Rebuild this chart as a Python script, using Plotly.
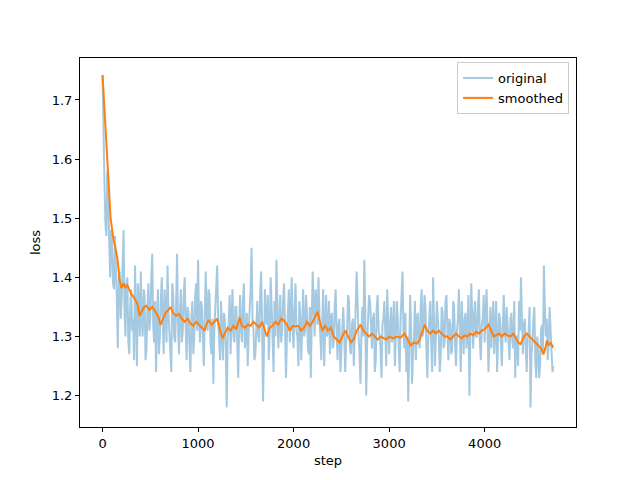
import plotly.graph_objects as go

orig_steps = list(range(0, 4721, 10))
orig_loss = [
    1.742, 1.62, 1.56, 1.49, 1.47, 1.58, 1.53, 1.46, 1.40, 1.48, 1.45, 1.39, 1.38, 1.47, 1.43, 1.36, 1.28, 1.40, 1.41, 1.33,
    1.36, 1.42, 1.48, 1.34, 1.30, 1.39, 1.40, 1.29, 1.27, 1.35, 1.38, 1.31, 1.33, 1.26, 1.42, 1.34, 1.25, 1.39, 1.36, 1.30,
    1.41, 1.33, 1.30, 1.38, 1.37, 1.26, 1.28, 1.35, 1.39, 1.31, 1.33, 1.40, 1.44, 1.32, 1.29, 1.36, 1.24, 1.33, 1.38, 1.27,
    1.30, 1.36, 1.40, 1.33, 1.27, 1.38, 1.35, 1.29, 1.42, 1.34, 1.31, 1.26, 1.24, 1.39, 1.37, 1.30, 1.29, 1.35, 1.44, 1.32,
    1.27, 1.34, 1.38, 1.29, 1.31, 1.37, 1.40, 1.32, 1.26, 1.35, 1.34, 1.28, 1.24, 1.33, 1.36, 1.27, 1.30, 1.37, 1.39, 1.31,
    1.43, 1.33, 1.29, 1.36, 1.35, 1.30, 1.25, 1.33, 1.41, 1.34, 1.31, 1.38, 1.37, 1.29, 1.27, 1.33, 1.22, 1.31, 1.34, 1.39,
    1.42, 1.33, 1.30, 1.26, 1.36, 1.31, 1.26, 1.34, 1.33, 1.28, 1.18, 1.30, 1.32, 1.37, 1.27, 1.33, 1.38, 1.30, 1.29, 1.35,
    1.35, 1.29, 1.23, 1.32, 1.37, 1.31, 1.29, 1.36, 1.39, 1.28, 1.30, 1.34, 1.25, 1.31, 1.34, 1.38, 1.45, 1.33, 1.31, 1.26,
    1.27, 1.33, 1.36, 1.30, 1.29, 1.37, 1.41, 1.32, 1.19, 1.28, 1.38, 1.33, 1.32, 1.37, 1.26, 1.31, 1.40, 1.35, 1.30, 1.24,
    1.36, 1.30, 1.43, 1.34, 1.28, 1.32, 1.37, 1.29, 1.31, 1.36, 1.39, 1.32, 1.23, 1.30, 1.34, 1.38, 1.29, 1.33, 1.40, 1.31,
    1.28, 1.35, 1.39, 1.31, 1.30, 1.25, 1.36, 1.33, 1.26, 1.32, 1.38, 1.30, 1.31, 1.37, 1.34, 1.28, 1.27, 1.35, 1.23, 1.33,
    1.41, 1.35, 1.30, 1.38, 1.36, 1.32, 1.40, 1.34, 1.29, 1.26, 1.33, 1.38, 1.25, 1.32, 1.37, 1.30, 1.31, 1.36, 1.27, 1.33,
    1.34, 1.28, 1.29, 1.35, 1.38, 1.31, 1.26, 1.32, 1.33, 1.24, 1.28, 1.34, 1.35, 1.30, 1.24, 1.29, 1.31, 1.37, 1.36, 1.28,
    1.27, 1.32, 1.33, 1.25, 1.29, 1.35, 1.41, 1.32, 1.30, 1.27, 1.22, 1.31, 1.35, 1.30, 1.43, 1.34, 1.20, 1.29, 1.32, 1.37,
    1.36, 1.30, 1.28, 1.33, 1.34, 1.24, 1.26, 1.35, 1.37, 1.31, 1.30, 1.28, 1.23, 1.32, 1.33, 1.36, 1.29, 1.25, 1.38, 1.31,
    1.27, 1.32, 1.35, 1.29, 1.31, 1.36, 1.25, 1.30, 1.36, 1.33, 1.29, 1.24, 1.33, 1.37, 1.41, 1.31, 1.28, 1.34, 1.24, 1.30,
    1.19, 1.28, 1.37, 1.31, 1.22, 1.27, 1.30, 1.36, 1.26, 1.33, 1.34, 1.29, 1.28, 1.35, 1.38, 1.30, 1.31, 1.37, 1.35, 1.28,
    1.23, 1.30, 1.33, 1.36, 1.29, 1.24, 1.40, 1.32, 1.25, 1.31, 1.36, 1.33, 1.30, 1.24, 1.27, 1.35, 1.34, 1.28, 1.29, 1.36,
    1.37, 1.31, 1.26, 1.33, 1.32, 1.27, 1.28, 1.36, 1.35, 1.29, 1.25, 1.31, 1.33, 1.38, 1.29, 1.24, 1.36, 1.31, 1.27, 1.33,
    1.34, 1.28, 1.31, 1.37, 1.20, 1.30, 1.39, 1.33, 1.28, 1.34, 1.36, 1.30, 1.30, 1.35, 1.38, 1.29, 1.26, 1.32, 1.33, 1.37,
    1.29, 1.34, 1.38, 1.31, 1.24, 1.30, 1.35, 1.28, 1.31, 1.36, 1.27, 1.32, 1.36, 1.24, 1.30, 1.34, 1.33, 1.28, 1.25, 1.32,
    1.37, 1.31, 1.29, 1.35, 1.32, 1.27, 1.26, 1.33, 1.34, 1.29, 1.28, 1.36, 1.23, 1.30, 1.30, 1.25, 1.36, 1.31, 1.40, 1.33,
    1.27, 1.32, 1.33, 1.28, 1.24, 1.30, 1.31, 1.35, 1.18, 1.27, 1.29, 1.33, 1.35, 1.26, 1.23, 1.30, 1.28, 1.23, 1.25, 1.31,
    1.32, 1.27, 1.42, 1.35, 1.30, 1.33, 1.26, 1.29, 1.35, 1.31, 1.28, 1.24, 1.25,
]

smooth_steps = [
    0, 20, 40, 60, 84, 100, 115, 135, 157, 178, 199, 220, 240, 260, 280, 300, 325, 345, 366, 387,
    410, 435, 460, 490, 520, 550, 580, 607, 630, 660, 690, 712, 740, 770, 800, 830, 860, 890, 920, 950,
    980, 1010, 1040, 1068, 1090, 1110, 1140, 1170, 1200, 1230, 1257, 1280, 1310, 1340, 1370, 1400, 1435, 1460, 1490, 1520,
    1550, 1580, 1610, 1640, 1670, 1700, 1720, 1750, 1780, 1810, 1840, 1870, 1900, 1930, 1960, 1990, 2020, 2050, 2080, 2110,
    2140, 2170, 2200, 2230, 2251, 2275, 2300, 2330, 2360, 2390, 2420, 2450, 2480, 2510, 2545, 2570, 2600, 2630, 2660, 2700,
    2730, 2760, 2790, 2820, 2850, 2880, 2910, 2940, 2970, 3000, 3040, 3080, 3120, 3160, 3190, 3225, 3260, 3290, 3320, 3350,
    3370, 3400, 3430, 3460, 3490, 3520, 3550, 3580, 3610, 3640, 3670, 3700, 3730, 3760, 3790, 3820, 3850, 3880, 3910, 3940,
    3970, 4000, 4040, 4070, 4095, 4120, 4150, 4180, 4210, 4240, 4270, 4300, 4330, 4350, 4375, 4410, 4440, 4470, 4500, 4530,
    4565, 4590, 4617, 4635, 4650, 4670, 4690, 4710, 4720,
]
smooth_loss = [
    1.742, 1.69, 1.63, 1.57, 1.50, 1.475, 1.463, 1.45, 1.43, 1.396, 1.382, 1.39, 1.383, 1.387, 1.378, 1.372, 1.367, 1.362, 1.355, 1.335,
    1.342, 1.35, 1.352, 1.345, 1.35, 1.343, 1.335, 1.32, 1.33, 1.34, 1.345, 1.35, 1.34, 1.335, 1.338, 1.33, 1.325, 1.33, 1.322, 1.318,
    1.325, 1.32, 1.315, 1.31, 1.322, 1.328, 1.32, 1.325, 1.33, 1.31, 1.297, 1.305, 1.315, 1.31, 1.318, 1.312, 1.332, 1.318, 1.315, 1.32,
    1.318, 1.325, 1.32, 1.315, 1.325, 1.31, 1.30, 1.315, 1.318, 1.325, 1.32, 1.33, 1.327, 1.32, 1.31, 1.318, 1.317, 1.318, 1.31, 1.315,
    1.325, 1.318, 1.325, 1.335, 1.342, 1.325, 1.31, 1.318, 1.31, 1.315, 1.30, 1.295, 1.29, 1.30, 1.31, 1.30, 1.29, 1.295, 1.31, 1.32,
    1.31, 1.305, 1.30, 1.305, 1.30, 1.295, 1.30, 1.298, 1.295, 1.30, 1.297, 1.30, 1.298, 1.305, 1.295, 1.285, 1.29, 1.288, 1.295, 1.31,
    1.32, 1.31, 1.305, 1.31, 1.305, 1.31, 1.305, 1.30, 1.30, 1.295, 1.30, 1.305, 1.30, 1.297, 1.302, 1.30, 1.305, 1.302, 1.308, 1.305,
    1.31, 1.312, 1.32, 1.31, 1.30, 1.302, 1.305, 1.30, 1.305, 1.302, 1.30, 1.305, 1.295, 1.29, 1.287, 1.30, 1.305, 1.30, 1.295, 1.29,
    1.285, 1.28, 1.27, 1.28, 1.293, 1.285, 1.29, 1.283, 1.285,
]

x_ticks = [0, 1000, 2000, 3000, 4000]
y_ticks = [1.2, 1.3, 1.4, 1.5, 1.6, 1.7]

font = dict(family="DejaVu Sans", size=13, color="black")

fig = go.Figure()
fig.add_trace(go.Scatter(x=orig_steps, y=orig_loss, mode="lines", name="original",
                         line=dict(color="rgba(31,119,180,0.4)", width=2)))
fig.add_trace(go.Scatter(x=smooth_steps, y=smooth_loss, mode="lines", name="smoothed",
                         line=dict(color="#ff7f0e", width=2)))

axis_common = dict(showline=True, linecolor="black", linewidth=1, mirror=True,
                   ticks="outside", ticklen=4, tickcolor="black", showgrid=False,
                   zeroline=False, tickfont=font)
fig.update_xaxes(range=[-236, 4956], tickvals=x_ticks, ticktext=[str(v) for v in x_ticks],
                 title=dict(text="step", font=font, standoff=6), **axis_common)
fig.update_yaxes(range=[1.147, 1.771], tickvals=y_ticks, ticktext=[f"{v:.1f}" for v in y_ticks],
                 title=dict(text="loss", font=font, standoff=8), **axis_common)

fig.update_layout(
    width=640, height=480,
    margin=dict(l=72, r=72, t=50, b=61),
    paper_bgcolor="white", plot_bgcolor="white",
    font=font,
    showlegend=True,
    legend=dict(x=0.986, y=0.989, xanchor="right", yanchor="top",
                bgcolor="rgba(255,255,255,0.8)", bordercolor="#cccccc", borderwidth=1,
                font=font, tracegroupgap=2),
)

fig.write_html("out.html")
